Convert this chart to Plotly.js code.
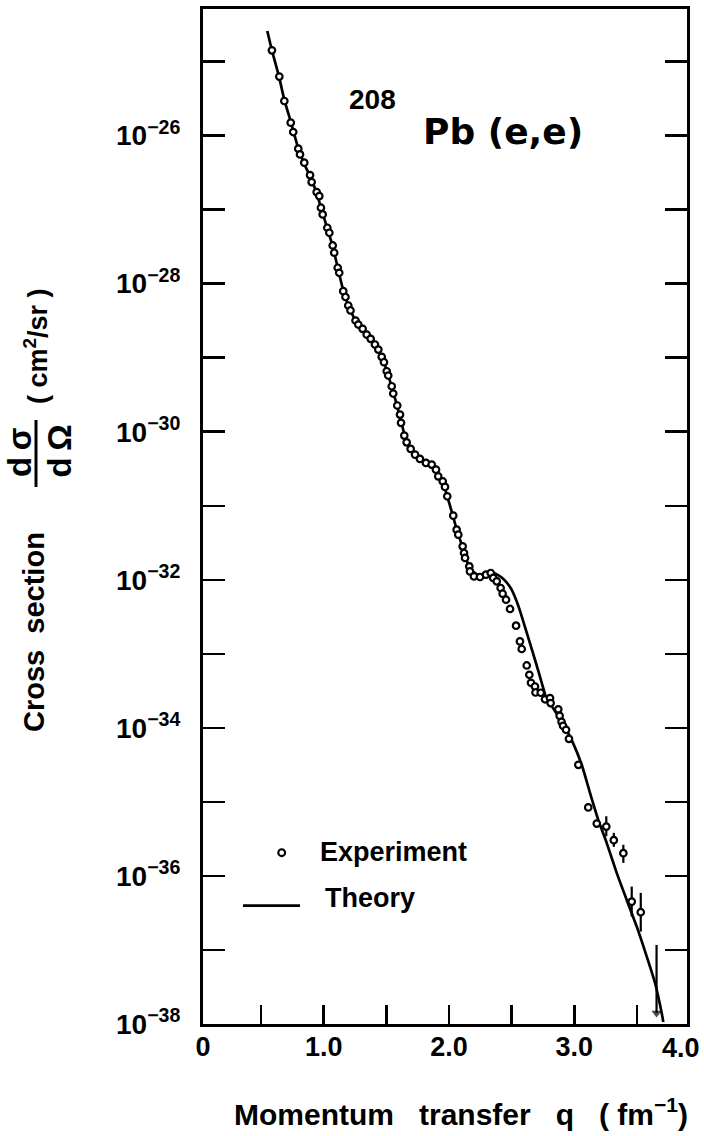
<!DOCTYPE html>
<html><head><meta charset="utf-8">
<script src="https://cdn.plot.ly/plotly-3.0.1.min.js"></script>
<style>html,body{margin:0;padding:0;background:#fff;}#chart{width:704px;height:1136px;}</style>
</head><body><div id="chart"></div>
<script>
// Momentum transfer q (fm^-1) and log10 of cross section (cm^2/sr)
const expQ = [0.587,0.646,0.686,0.737,0.757,0.797,0.811,0.845,0.891,0.904,
0.944,0.965,0.978,0.992,1.029,1.045,1.072,1.084,1.112,1.124,
1.156,1.174,1.196,1.214,1.254,1.276,1.311,1.343,1.375,1.409,
1.436,1.463,1.481,1.503,1.515,1.543,1.555,1.587,1.609,1.617,
1.643,1.662,1.694,1.729,1.768,1.816,1.862,1.896,1.914,1.950,
1.968,1.986,2.034,2.061,2.074,2.109,2.120,2.128,2.162,2.167,
2.199,2.247,2.295,2.333,2.353,2.381,2.412,2.428,2.455,2.487,
2.535,2.566,2.580,2.620,2.641,2.654,2.686,2.690,2.732,2.766,
2.806,2.811,2.872,2.883,2.898,2.910,2.934,2.957,3.032,3.111,
3.179];
const expLogSigma = [-24.848,-25.203,-25.533,-25.825,-25.952,-26.177,-26.254,-26.366,-26.533,-26.628,
-26.763,-26.817,-26.974,-27.065,-27.245,-27.312,-27.484,-27.582,-27.785,-27.853,
-28.101,-28.180,-28.295,-28.362,-28.498,-28.552,-28.610,-28.687,-28.745,-28.822,
-28.890,-28.988,-29.061,-29.183,-29.241,-29.386,-29.484,-29.646,-29.768,-29.880,
-30.052,-30.143,-30.232,-30.309,-30.367,-30.421,-30.444,-30.512,-30.602,-30.670,
-30.745,-30.872,-31.133,-31.323,-31.390,-31.548,-31.638,-31.705,-31.819,-31.886,
-31.954,-31.962,-31.931,-31.908,-31.975,-32.021,-32.111,-32.188,-32.269,-32.394,
-32.620,-32.832,-32.935,-33.157,-33.283,-33.391,-33.441,-33.522,-33.526,-33.614,
-33.598,-33.665,-33.749,-33.837,-33.918,-33.972,-34.026,-34.148,-34.499,-35.074,
-35.293];
// high-q points with error bars
const errQ = [3.255,3.315,3.391,3.458,3.530];
const errLogSigma = [-35.333,-35.517,-35.693,-36.347,-36.490];
const errLogHigh = [-35.194,-35.418,-35.580,-36.144,-36.229];
const errLogLow = [-35.464,-35.607,-35.824,-36.550,-36.752];
// upper limit (arrow)
const limitQ = [3.656, 3.656];
const limitLogSigma = [-36.932, -37.851];
// theory curve
const theoryQ = [0.550,0.587,0.643,0.687,0.739,0.795,0.843,0.891,0.942,0.978,
1.026,1.070,1.110,1.154,1.194,1.250,1.306,1.369,1.433,1.481,
1.513,1.545,1.585,1.617,1.649,1.689,1.737,1.800,1.864,1.912,
1.952,1.984,2.024,2.064,2.104,2.136,2.175,2.231,2.295,2.343,
2.399,2.447,2.495,2.535,2.566,2.630,2.686,2.740,2.780,2.806,
2.854,2.910,2.989,3.059,3.125,3.191,3.258,3.338,3.418,3.498,
3.578,3.644,3.697,3.710];
const theoryLogSigma = [-24.587,-24.848,-25.199,-25.524,-25.821,-26.159,-26.375,-26.551,-26.767,-26.970,
-27.240,-27.484,-27.768,-28.079,-28.281,-28.484,-28.606,-28.727,-28.890,-29.065,
-29.227,-29.403,-29.646,-29.849,-30.066,-30.214,-30.322,-30.390,-30.444,-30.552,
-30.687,-30.863,-31.093,-31.336,-31.539,-31.715,-31.863,-31.931,-31.917,-31.904,
-31.944,-32.012,-32.120,-32.269,-32.417,-32.769,-33.080,-33.391,-33.620,-33.675,
-33.796,-33.945,-34.202,-34.499,-34.878,-35.243,-35.553,-35.959,-36.324,-36.685,
-37.090,-37.446,-37.851,-37.973];
// axis ticks (the last x label sits at the right frame edge of the original drawing)
const xTickVals = [0.0375,1.0,2.0,3.0];
const xTickText = ['0','1.0','2.0','3.0','4.0'];
const xMinorVals = [0.5,1.5,2.5,3.5];
const yTickExp = [-26,-28,-30,-32,-34,-36,-38];
const yTickText = ['10<sup>\u221226</sup>','10<sup>\u221228</sup>','10<sup>\u221230</sup>','10<sup>\u221232</sup>','10<sup>\u221234</sup>','10<sup>\u221236</sup>','10<sup>\u221238</sup>'];
const yMinorExp = [-25,-27,-29,-31,-33,-35,-37];

const p10 = a => a.map(v => Math.pow(10, v));
const SANS = 'Liberation Sans, Arial, sans-serif';
const errY = p10(errLogSigma);

const traces = [
  {x: theoryQ, y: p10(theoryLogSigma), mode: 'lines', name: 'Theory',
   line: {color: '#000', width: 2.7, shape: 'spline', smoothing: 0.5}},
  {x: limitQ, y: p10(limitLogSigma), mode: 'lines+markers', name: 'Upper limit',
   line: {color: '#000', width: 2.2},
   marker: {symbol: ['line-ew', 'triangle-down'], size: [0, 9], color: '#000', line: {width: 0}}},
  {x: errQ, y: errY, mode: 'markers', name: 'Experiment',
   marker: {symbol: 'circle', size: 6.5, color: '#fff', line: {color: '#000', width: 2.2}},
   error_y: {type: 'data', symmetric: false,
     array: p10(errLogHigh).map((v, i) => v - errY[i]),
     arrayminus: p10(errLogLow).map((v, i) => errY[i] - v),
     color: '#000', thickness: 2.2, width: 0}},
  {x: expQ, y: p10(expLogSigma), mode: 'markers', name: 'Experiment',
   marker: {symbol: 'circle', size: 6.5, color: '#fff', line: {color: '#000', width: 2.2}}}
];

const W = 484, H = 1015, L = 203, T = 9;
const px = v => (v - L) / W;
const py = v => (T + H - v) / H;
const ann = (text, x, y, size, extra) => Object.assign({text: text, xref: 'paper', yref: 'paper',
  x: px(x), y: py(y), xanchor: 'center', yanchor: 'middle', showarrow: false,
  font: {family: SANS, size: size, weight: 'bold', color: '#000'}}, extra || {});

const layout = {
  width: 704, height: 1136,
  margin: {l: 203, r: 17, t: 9, b: 112},
  paper_bgcolor: '#fff', plot_bgcolor: '#fff',
  showlegend: false,
  font: {family: SANS, color: '#000'},
  xaxis: {range: [0.037, 3.899], tickmode: 'array', tickvals: xTickVals, ticktext: xTickText.slice(0, 4),
    ticks: 'inside', ticklen: 19, tickwidth: 2.5, tickcolor: '#000',
    minor: {tickmode: 'array', tickvals: xMinorVals, ticks: 'inside', ticklen: 19, tickwidth: 2.5, tickcolor: '#000', showgrid: false},
    showline: true, linewidth: 3, linecolor: '#000', mirror: true,
    showgrid: false, zeroline: false, ticklabelstandoff: -3,
    tickfont: {family: SANS, size: 27, weight: 'bold', color: '#000'}},
  yaxis: {type: 'log', range: [-38.0, -24.29], tickmode: 'array', tickvals: p10(yTickExp), ticktext: yTickText,
    ticks: 'inside', ticklen: 22, tickwidth: 2.5, tickcolor: '#000',
    minor: {tickmode: 'array', tickvals: p10(yMinorExp), ticks: 'inside', ticklen: 22, tickwidth: 2.5, tickcolor: '#000', showgrid: false},
    showline: true, linewidth: 3, linecolor: '#000', mirror: 'ticks',
    showgrid: false, zeroline: false, ticklabelstandoff: 14, ticklabeloverflow: 'allow',
    tickfont: {family: SANS, size: 28, weight: 'bold', color: '#000'}},
  annotations: [
    ann(xTickText[4], 700, 1048, 27, {xanchor: 'right', x: px(702)}),
    ann('208', 372.5, 99, 28),
    ann('Pb (e,e)', 502.5, 131, 36, {font: {family: 'DejaVu Sans, sans-serif', size: 36, weight: 'bold', color: '#000'}}),
    ann('Experiment', 318, 852, 27, {xanchor: 'left', x: px(318)}),
    ann('Theory', 322.7, 898, 27, {xanchor: 'left', x: px(322.7)}),
    ann('Momentum\u00a0\u00a0 transfer\u00a0\u00a0 q\u00a0\u00a0 (\u00a0fm<sup>\u22121</sup>)', 461, 1112, 30),
    ann('Cross\u00a0\u00a0section', 34, 632, 29, {textangle: -90}),
    ann('(\u00a0cm<sup>2</sup>/sr\u00a0)', 36, 346, 27, {textangle: -90}),
    ann('d\u2009\u03c3', 20, 453, 33, {textangle: -90}),
    ann('d\u2009\u03a9', 58.5, 451, 33, {textangle: -90})
  ],
  shapes: [
    {type: 'line', xref: 'paper', yref: 'paper', x0: px(36), x1: px(36), y0: py(487), y1: py(420),
     line: {color: '#000', width: 3}},
    {type: 'line', xref: 'paper', yref: 'paper', x0: px(243), x1: px(300), y0: py(905.7), y1: py(905.7),
     line: {color: '#000', width: 2.7}},
    {type: 'circle', xref: 'paper', yref: 'paper', xsizemode: 'pixel', ysizemode: 'pixel',
     xanchor: px(281.7), yanchor: py(852.7), x0: -3.4, x1: 3.4, y0: -3.4, y1: 3.4,
     fillcolor: '#fff', line: {color: '#000', width: 2.1}}
  ]
};

Plotly.newPlot('chart', traces, layout, {staticPlot: true, displayModeBar: false});
</script>
</body></html>
